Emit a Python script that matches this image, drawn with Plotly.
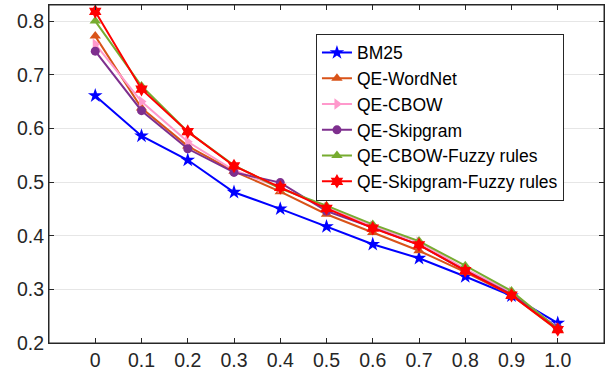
import plotly.graph_objects as go

x_vals = [0, 0.1, 0.2, 0.3, 0.4, 0.5, 0.6, 0.7, 0.8, 0.9, 1.0]
x_labels = ["0", "0.1", "0.2", "0.3", "0.4", "0.5", "0.6", "0.7", "0.8", "0.9", "1.0"]

bm25 = [0.661, 0.586, 0.541, 0.481, 0.450, 0.417, 0.384, 0.358, 0.324, 0.288, 0.237]
qe_wordnet = [0.772, 0.638, 0.567, 0.520, 0.482, 0.440, 0.406, 0.372, 0.332, 0.289, 0.224]
qe_cbow = [0.757, 0.650, 0.575, 0.522, 0.490, 0.452, 0.418, 0.388, 0.338, 0.295, 0.228]
qe_skipgram = [0.744, 0.633, 0.562, 0.518, 0.499, 0.446, 0.415, 0.383, 0.335, 0.291, 0.228]
qe_cbow_fuzzy = [0.800, 0.679, 0.594, 0.531, 0.488, 0.456, 0.421, 0.390, 0.344, 0.297, 0.226]
qe_skip_fuzzy = [0.818, 0.673, 0.594, 0.530, 0.490, 0.451, 0.414, 0.383, 0.335, 0.289, 0.225]

y_ticks = [0.2, 0.3, 0.4, 0.5, 0.6, 0.7, 0.8]

series = [
    ("BM25", bm25, "#0000FF", "star", 11),
    ("QE-WordNet", qe_wordnet, "#D95319", "triangle-up", 10),
    ("QE-CBOW", qe_cbow, "#FF99CC", "triangle-right", 10),
    ("QE-Skipgram", qe_skipgram, "#7E2F8E", "circle", 9),
    ("QE-CBOW-Fuzzy rules", qe_cbow_fuzzy, "#77AC30", "triangle-up", 10),
    ("QE-Skipgram-Fuzzy rules", qe_skip_fuzzy, "#FF0000", "hexagram", 11),
]

fig = go.Figure()
for i, (name, vals, color, sym, size) in enumerate(series):
    fig.add_trace(go.Scatter(
        x=x_vals, y=vals, name=name, mode="lines+markers",
        line=dict(color=color, width=2),
        marker=dict(symbol=sym, size=size, color=color),
    ))

axis_common = dict(
    showline=True, linecolor="#262626", linewidth=1, mirror="ticks",
    ticks="inside", ticklen=5, tickcolor="#262626", tickwidth=1,
    tickfont=dict(family="Liberation Sans, Arial, sans-serif", size=19.5, color="#262626"),
    zeroline=False, automargin=False,
)

fig.update_xaxes(
    range=[-0.1, 1.1], tickvals=x_vals, ticktext=x_labels, showgrid=False,
    **axis_common,
)
fig.update_yaxes(
    range=[0.2, 0.83], tickvals=y_ticks, ticktext=[f"{v:.1f}" for v in y_ticks],
    showgrid=True, gridcolor="#E6E6E6", gridwidth=1,
    **axis_common,
)

fig.update_layout(
    width=613, height=378,
    margin=dict(l=49, r=9, t=5, b=35),
    plot_bgcolor="white", paper_bgcolor="white",
    font=dict(family="Liberation Sans, Arial, sans-serif", color="#000000"),
    legend=dict(
        x=0.481, y=0.915, xanchor="left", yanchor="top",
        bordercolor="#262626", borderwidth=1, bgcolor="white",
        font=dict(size=17.5, color="#000000"),
        itemwidth=30,
    ),
    shapes=[dict(type="rect", xref="paper", yref="paper", x0=0, x1=1, y0=0, y1=1,
                 line=dict(color="#262626", width=1), fillcolor="rgba(0,0,0,0)",
                 layer="above")],
    showlegend=True,
)

fig.write_html("out.html", config={"displayModeBar": False},
               post_script="document.body.style.margin='0';")
